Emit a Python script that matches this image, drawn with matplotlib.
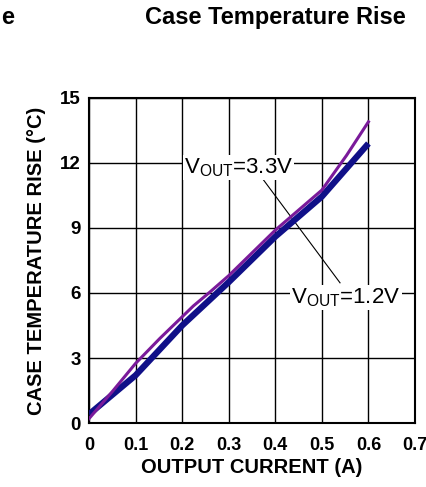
import matplotlib.pyplot as plt

plt.rcParams['font.family'] = ['Liberation Sans', 'DejaVu Sans']

i_33 = [0.0, 0.052, 0.10, 0.152, 0.20, 0.224, 0.26, 0.30, 0.40, 0.50, 0.553, 0.60]
t_33 = [0.2, 1.5, 2.75, 3.9, 4.9, 5.4, 6.05, 6.8, 8.9, 10.75, 12.35, 13.9]
i_12 = [0.0, 0.10, 0.20, 0.30, 0.40, 0.50, 0.60]
t_12 = [0.4, 2.2, 4.5, 6.5, 8.6, 10.45, 12.9]

xticks = [0, 0.1, 0.2, 0.3, 0.4, 0.5, 0.6, 0.7]
xticklabels = ['0', '0.1', '0.2', '0.3', '0.4', '0.5', '0.6', '0.7']
yticks = [0, 3, 6, 9, 12, 15]

fig = plt.figure(figsize=(4.27, 4.87), dpi=100)
ax = fig.add_axes([0.2084, 0.1314, 0.7635, 0.6674])

ax.plot(i_12, t_12, color='#101088', lw=4.5, solid_capstyle='butt', zorder=3)
ax.plot(i_33, t_33, color='#7a1a9a', lw=2.2, zorder=4)

ax.set_xlim(0, 0.7)
ax.set_ylim(0, 15)
ax.set_xticks(xticks)
ax.set_xticklabels(xticklabels)
ax.set_yticks(yticks)
ax.grid(True, color='black', lw=1)
ax.tick_params(length=0, labelsize=13.5)
ax.tick_params(axis='x', pad=10, labelsize=13)
ax.tick_params(axis='y', pad=6)
for lab in ax.get_xticklabels() + ax.get_yticklabels():
    lab.set_fontweight('bold')
for s in ax.spines.values():
    s.set_linewidth(1.5)

# leader line
ax.plot([0.367, 0.539], [11.44, 6.47], color='black', lw=0.8, zorder=2)

box = dict(facecolor='white', edgecolor='none', pad=1)
ax.text(0.321, 11.8, r'V$_{\mathregular{OUT}}$=3.3V', fontsize=16,
        ha='center', va='center', bbox=box, zorder=5)
ax.text(0.552, 5.8, r'V$_{\mathregular{OUT}}$=1.2V', fontsize=16,
        ha='center', va='center', bbox=box, zorder=5)

ax.set_xlabel('OUTPUT CURRENT (A)', fontsize=14.5, fontweight='bold', labelpad=3)
ax.set_ylabel('CASE TEMPERATURE RISE (°C)', fontsize=14.5, fontweight='bold', labelpad=10)

fig.text(0.645, 0.965, 'Case Temperature Rise', fontsize=17, fontweight='bold',
         ha='center', va='center')
fig.text(0.002, 0.965, 'e', fontsize=17, fontweight='bold', ha='left', va='center')

fig.savefig('out.png', dpi=100)
